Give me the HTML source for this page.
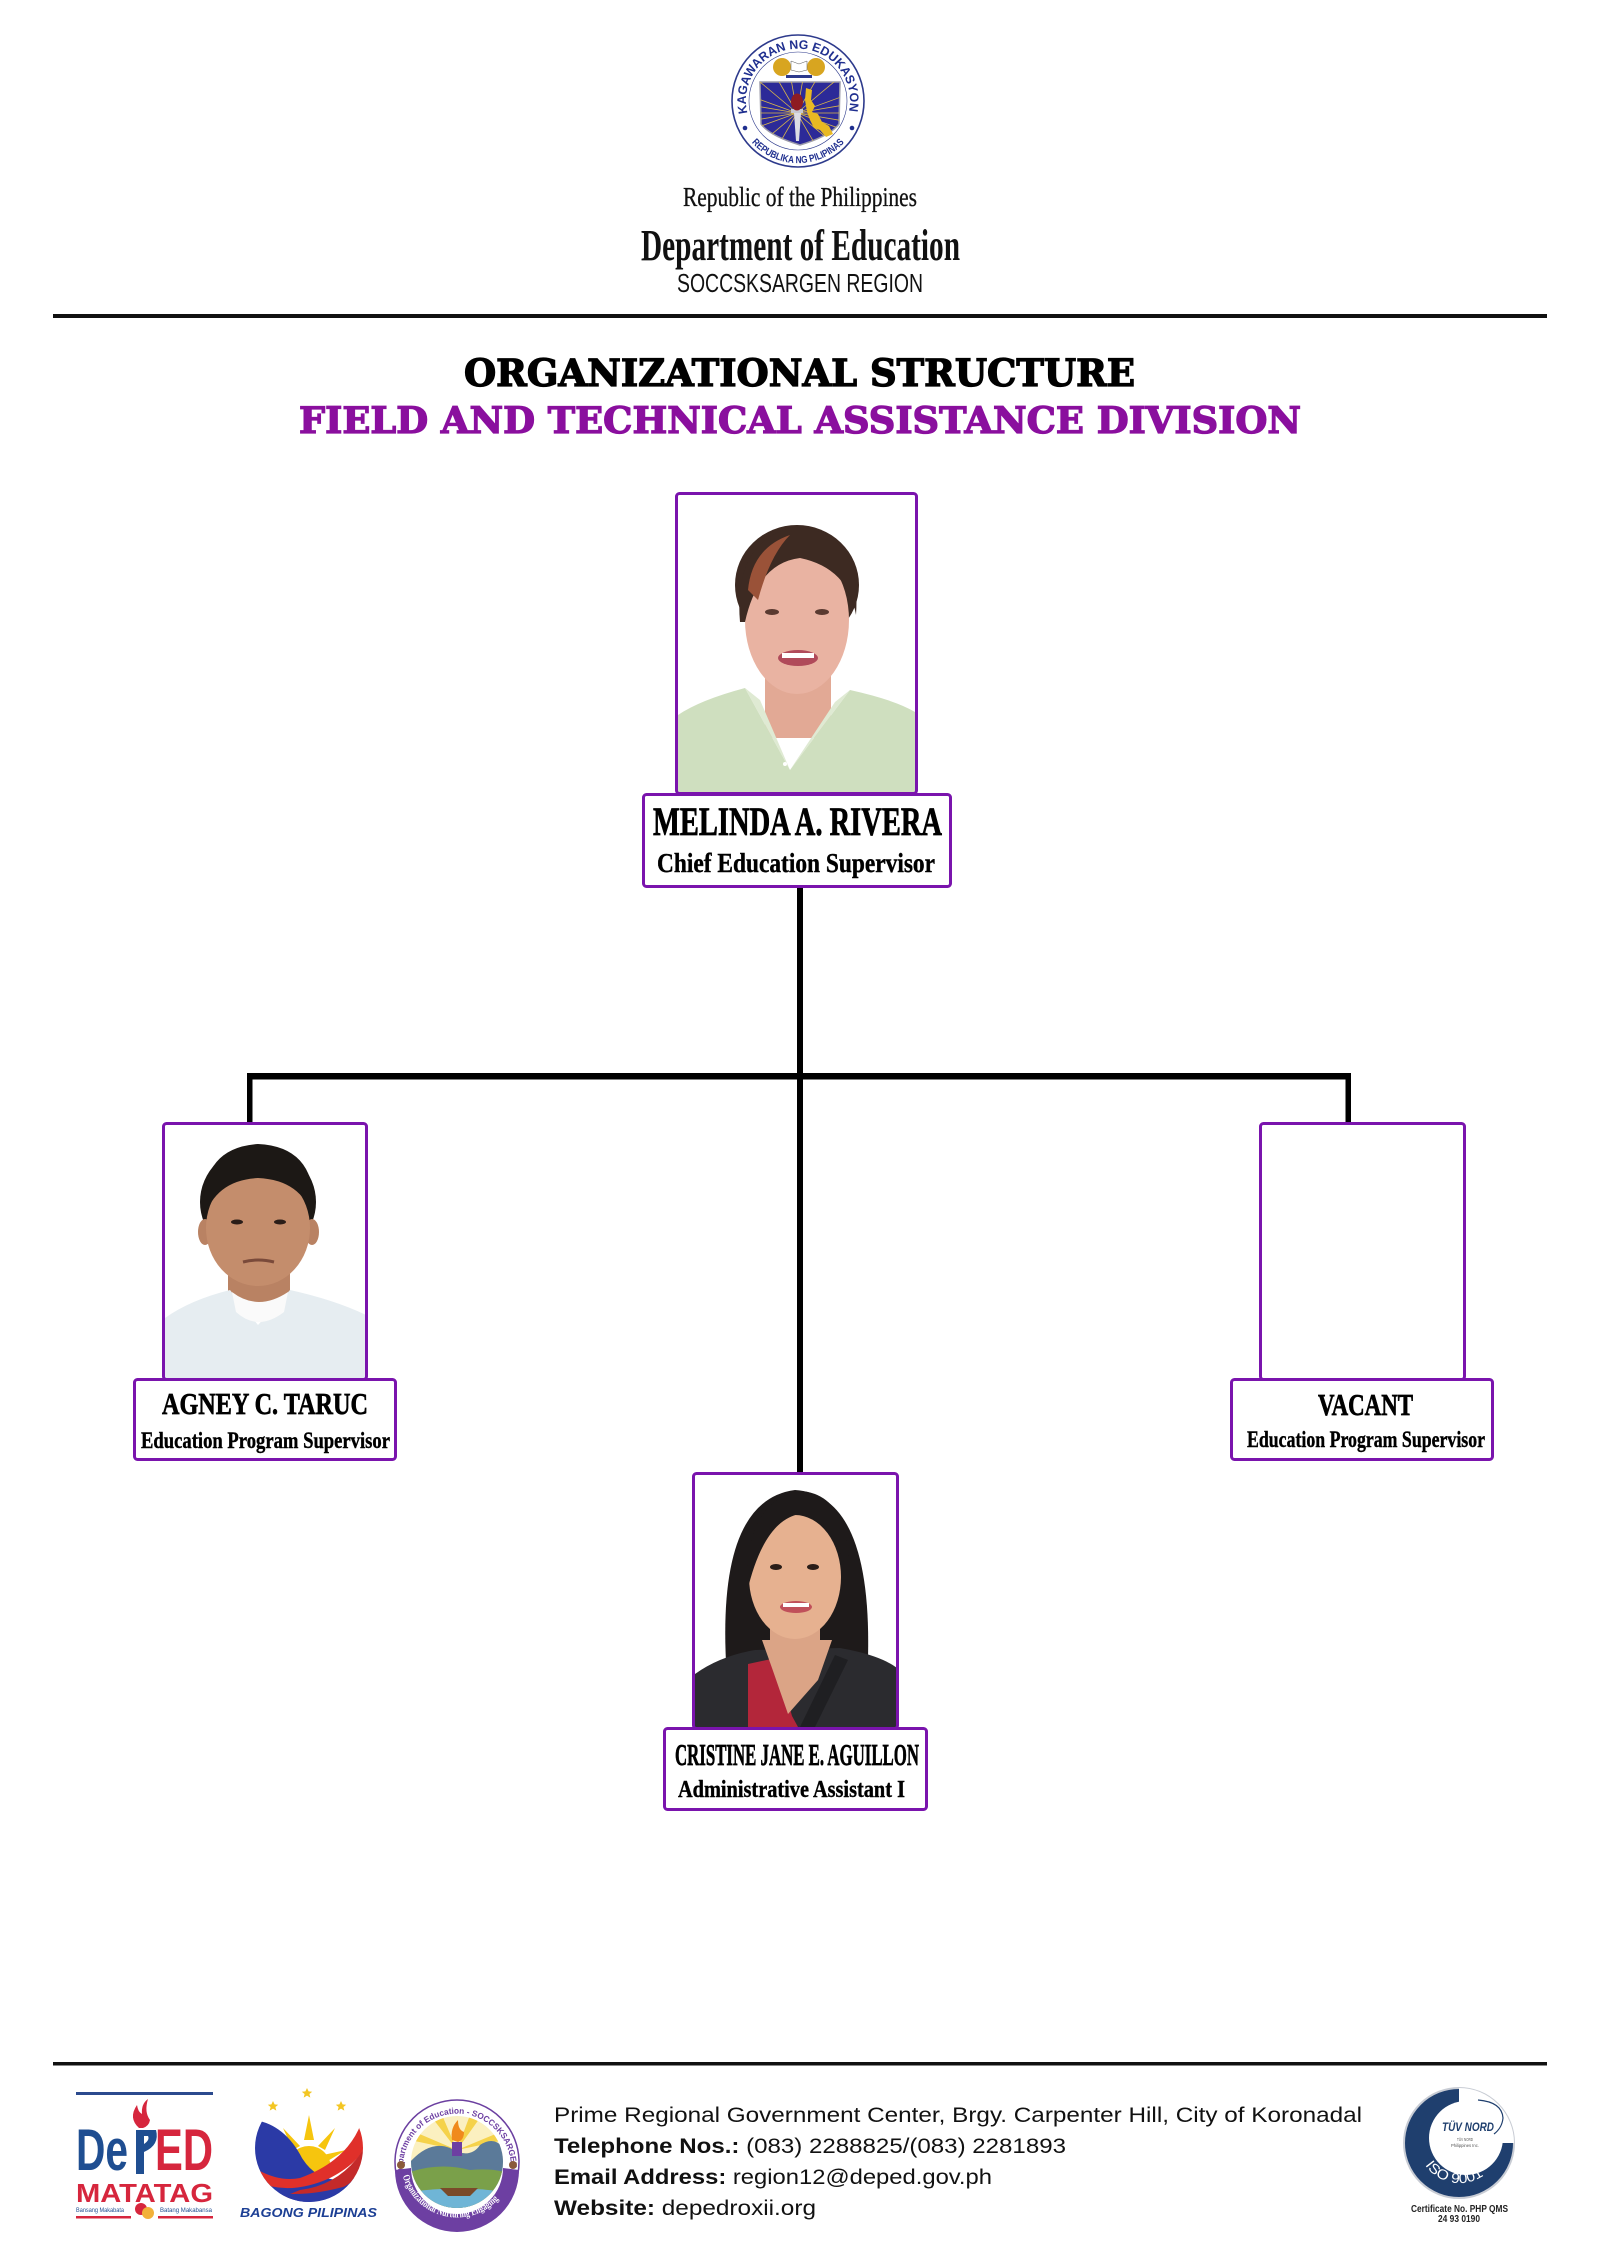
<!DOCTYPE html>
<html>
<head>
<meta charset="utf-8">
<style>
html,body{margin:0;padding:0;background:#fff;}
svg{display:block;}
</style>
</head>
<body>
<svg width="1600" height="2263" viewBox="0 0 1600 2263" xmlns="http://www.w3.org/2000/svg" xmlns:xlink="http://www.w3.org/1999/xlink">
<defs>
  <clipPath id="shieldClip"><path d="M760 82 L840 82 L839 124 Q830 136 800 145 Q770 136 761 124 Z"/></clipPath>
  <clipPath id="cTop"><rect x="678" y="495" width="237" height="298"/></clipPath>
  <clipPath id="cLeft"><rect x="165" y="1125" width="200" height="253"/></clipPath>
  <clipPath id="cBot"><rect x="695" y="1475" width="201" height="252"/></clipPath>
  <clipPath id="bagClip"><circle cx="309" cy="2148" r="54"/></clipPath>
  <clipPath id="sceneClip"><circle cx="457" cy="2162" r="46"/></clipPath>
  <path id="arcTop" d="M748 115 A52 52 0 1 1 848 115" fill="none"/>
  <path id="arcBot" d="M750.5 141 A62 62 0 0 0 845.5 141" fill="none"/>
  <path id="ringTop" d="M404 2178 A54 54 0 1 1 510 2178" fill="none"/>
  <path id="ringBot" d="M402 2172 A56 56 0 0 0 512 2172" fill="none"/>
  <path id="isoArc" d="M1422 2160 A42 42 0 0 0 1498 2158" fill="none"/>
</defs>
<rect width="1600" height="2263" fill="#fff"/>

<!-- ===== TOP SEAL ===== -->
<circle cx="798" cy="101" r="66" fill="#fff" stroke="#2d3a8c" stroke-width="1.6"/>
<circle cx="798" cy="101" r="49" fill="none" stroke="#2d3a8c" stroke-width="0.6"/>
<text font-family="'Liberation Sans', sans-serif" font-weight="bold" font-size="12.5" fill="#1f2f8f"><textPath xlink:href="#arcTop" href="#arcTop" startOffset="2" textLength="186" lengthAdjust="spacingAndGlyphs">KAGAWARAN NG EDUKASYON</textPath></text>
<text font-family="'Liberation Sans', sans-serif" font-weight="bold" font-size="10" fill="#1f2f8f"><textPath xlink:href="#arcBot" href="#arcBot" startOffset="2" textLength="104" lengthAdjust="spacingAndGlyphs">REPUBLIKA NG PILIPINAS</textPath></text>
<circle cx="745" cy="128" r="2.3" fill="#1f2f8f"/>
<circle cx="852" cy="128" r="2.3" fill="#1f2f8f"/>
<!-- shield -->
<path d="M760 82 L840 82 L839 124 Q830 136 800 145 Q770 136 761 124 Z" fill="#2c2a98" stroke="#9a9aa8" stroke-width="1.5"/>
<g clip-path="url(#shieldClip)" stroke="#d9b64a" stroke-width="0.8">
  <path d="M797 113 l60 0 M797 113 l56.4 20.5 M797 113 l46 38.6 M797 113 l30 52 M797 113 l-30 52 M797 113 l-46 38.6 M797 113 l-56.4 20.5 M797 113 l-60 0 M797 113 l-56.4 -20.5 M797 113 l-46 -38.6 M797 113 l-30 -52 M797 113 l-10.4 -59.1 M797 113 l10.4 -59.1 M797 113 l30 -52 M797 113 l46 -38.6 M797 113 l56.4 -20.5 M797 113 l59 10 M797 113 l-59 10 M797 113 l-59 -10 M797 113 l59 -10"/>
</g>
<path d="M806 88 L812 90 L811 100 L815 106 L812 112 L818 114 L822 122 L829 126 L833 134 L826 137 L820 130 L814 128 L810 120 L807 112 L805 100 Z" fill="#e9b923"/>
<path d="M794 113 L801 113 L799 141 L796 141 Z" fill="#dcdce4"/>
<rect x="791" y="109" width="12" height="4" fill="#c8c8d0"/>
<ellipse cx="797" cy="102" rx="6" ry="8.5" fill="#8e1c22"/>
<ellipse cx="782" cy="67" rx="9" ry="9" fill="#d8a520"/>
<ellipse cx="816" cy="67" rx="9" ry="9" fill="#d8a520"/>
<path d="M791 61 L799 64 L807 61 L807 70 L799 72 L791 70 Z" fill="#fff" stroke="#555" stroke-width="0.5"/>
<rect x="786" y="75" width="26" height="3" fill="#2d3a8c"/>

<!-- ===== HEADER TEXT ===== -->
<text x="683" y="206" font-family="'Liberation Serif', serif" font-size="27" fill="#111" stroke="#111" stroke-width="0.3" textLength="234" lengthAdjust="spacingAndGlyphs">Republic of the Philippines</text>
<text x="641" y="260" font-family="'Liberation Serif', serif" font-weight="bold" font-size="44" fill="#111" textLength="319" lengthAdjust="spacingAndGlyphs">Department of Education</text>
<text x="677" y="292" font-family="'Liberation Sans', sans-serif" font-size="26" fill="#111" textLength="246" lengthAdjust="spacingAndGlyphs">SOCCSKSARGEN REGION</text>
<rect x="53" y="314" width="1494" height="4" fill="#111"/>

<text x="464" y="386" font-family="'DejaVu Serif', serif" font-weight="bold" font-size="37" fill="#000" stroke="#000" stroke-width="1.3" textLength="671" lengthAdjust="spacingAndGlyphs">ORGANIZATIONAL STRUCTURE</text>
<text x="299" y="433" font-family="'DejaVu Serif', serif" font-weight="bold" font-size="36" fill="#8a0f9e" stroke="#8a0f9e" stroke-width="1.3" textLength="1002" lengthAdjust="spacingAndGlyphs">FIELD AND TECHNICAL ASSISTANCE DIVISION</text>

<!-- ===== CONNECTORS ===== -->
<rect x="797" y="886" width="6" height="588" fill="#000"/>
<rect x="247" y="1073" width="1104" height="6.5" fill="#000"/>
<rect x="247" y="1073" width="5.5" height="50" fill="#000"/>
<rect x="1345.5" y="1073" width="5.5" height="50" fill="#000"/>

<!-- ===== TOP NODE ===== -->
<g clip-path="url(#cTop)">
  <ellipse cx="797" cy="585" rx="62" ry="60" fill="#3d2a22"/>
  <rect x="765" y="668" width="66" height="70" fill="#e2a995"/>
  <path d="M678 715 Q700 700 745 688 L790 770 L850 690 Q895 700 915 712 L915 793 L678 793 Z" fill="#cfdfbf"/>
  <path d="M745 688 L760 700 L790 770 Z M850 690 L835 702 L790 770 Z" fill="#dfead3"/>
  <ellipse cx="797" cy="620" rx="52" ry="74" fill="#e9b3a2"/>
  <path d="M740 622 Q733 540 795 527 Q862 530 856 615 Q848 568 800 558 Q758 563 745 622 Z" fill="#3d2a22"/>
  <path d="M748 590 Q752 548 790 535 Q770 555 758 600 Z" fill="#9a5238"/>
  <ellipse cx="772" cy="612" rx="7" ry="3" fill="#5a3a30"/>
  <ellipse cx="822" cy="612" rx="7" ry="3" fill="#5a3a30"/>
  <ellipse cx="798" cy="658" rx="20" ry="8" fill="#b04a5a"/>
  <rect x="782" y="653" width="32" height="5" fill="#fff"/>
  <circle cx="785" cy="764" r="2" fill="#fff"/>
</g>
<rect x="676.5" y="493.5" width="240" height="300" rx="3" fill="none" stroke="#7a14ad" stroke-width="3"/>
<rect x="643.5" y="794.5" width="307" height="92" rx="3" fill="#fff" stroke="#7a14ad" stroke-width="3"/>
<text x="653" y="835" font-family="'Liberation Serif', serif" font-weight="bold" font-size="40" fill="#000" stroke="#000" stroke-width="0.8" textLength="289" lengthAdjust="spacingAndGlyphs">MELINDA A. RIVERA</text>
<text x="657" y="872" font-family="'Liberation Serif', serif" font-weight="bold" font-size="27" fill="#000" stroke="#000" stroke-width="0.4" textLength="278" lengthAdjust="spacingAndGlyphs">Chief Education Supervisor</text>

<!-- ===== LEFT NODE ===== -->
<g clip-path="url(#cLeft)">
  <ellipse cx="258" cy="1202" rx="58" ry="56" fill="#1c1815"/>
  <rect x="228" y="1258" width="62" height="52" fill="#b98263"/>
  <path d="M165 1318 Q190 1300 230 1290 L258 1325 L290 1290 Q335 1300 366 1315 L366 1378 L165 1378 Z" fill="#e6edf1"/>
  <path d="M232 1292 Q258 1312 288 1292 L284 1312 Q258 1332 236 1312 Z" fill="#fafafa"/>
  <ellipse cx="205" cy="1232" rx="7" ry="13" fill="#b98263"/>
  <ellipse cx="312" cy="1232" rx="7" ry="13" fill="#b98263"/>
  <ellipse cx="258" cy="1228" rx="52" ry="58" fill="#c48d6c"/>
  <path d="M204 1218 Q198 1148 258 1144 Q320 1147 313 1218 Q302 1180 258 1178 Q216 1180 204 1218 Z" fill="#1c1815"/>
  <ellipse cx="237" cy="1222" rx="6" ry="2.5" fill="#2a1d18"/>
  <ellipse cx="280" cy="1222" rx="6" ry="2.5" fill="#2a1d18"/>
  <path d="M243 1262 Q258 1258 274 1262" stroke="#7a4a3a" stroke-width="3" fill="none"/>
</g>
<rect x="163.5" y="1123.5" width="203" height="256" rx="3" fill="none" stroke="#7a14ad" stroke-width="3"/>
<rect x="134.5" y="1379.5" width="261" height="80" rx="3" fill="#fff" stroke="#7a14ad" stroke-width="3"/>
<text x="162" y="1414" font-family="'Liberation Serif', serif" font-weight="bold" font-size="31" fill="#000" stroke="#000" stroke-width="0.7" textLength="206" lengthAdjust="spacingAndGlyphs">AGNEY C. TARUC</text>
<text x="141" y="1448" font-family="'Liberation Serif', serif" font-weight="bold" font-size="23" fill="#000" stroke="#000" stroke-width="0.4" textLength="249" lengthAdjust="spacingAndGlyphs">Education Program Supervisor</text>

<!-- ===== RIGHT NODE (VACANT) ===== -->
<rect x="1260.5" y="1123.5" width="204" height="256" rx="3" fill="#fff" stroke="#7a14ad" stroke-width="3"/>
<rect x="1231.5" y="1379.5" width="261" height="80" rx="3" fill="#fff" stroke="#7a14ad" stroke-width="3"/>
<text x="1318" y="1415" font-family="'Liberation Serif', serif" font-weight="bold" font-size="31" fill="#000" stroke="#000" stroke-width="0.7" textLength="95" lengthAdjust="spacingAndGlyphs">VACANT</text>
<text x="1247" y="1447" font-family="'Liberation Serif', serif" font-weight="bold" font-size="23" fill="#000" stroke="#000" stroke-width="0.4" textLength="238" lengthAdjust="spacingAndGlyphs">Education Program Supervisor</text>

<!-- ===== BOTTOM NODE ===== -->
<g clip-path="url(#cBot)">
  <path d="M726 1662 Q718 1500 795 1490 Q872 1495 868 1658 Z" fill="#1e1a1a"/>
  <rect x="770" y="1620" width="50" height="60" fill="#dba486"/>
  <path d="M695 1674 Q720 1656 755 1650 L840 1648 Q880 1655 897 1668 L897 1727 L695 1727 Z" fill="#2b2b2f"/>
  <path d="M748 1664 L776 1658 L792 1716 L798 1727 L748 1727 Z" fill="#b3263a"/>
  <path d="M762 1640 L832 1640 L818 1680 L788 1714 L772 1668 Z" fill="#dba486"/>
  <path d="M800 1727 L835 1655 L848 1660 L815 1727 Z" fill="#1f1f22"/>
  <ellipse cx="795" cy="1577" rx="46" ry="62" fill="#e6b190"/>
  <path d="M747 1592 Q744 1500 800 1491 Q852 1494 849 1582 Q836 1520 800 1514 Q764 1520 747 1592 Z" fill="#1e1a1a"/>
  <ellipse cx="776" cy="1567" rx="6" ry="3" fill="#2a1d18"/>
  <ellipse cx="813" cy="1567" rx="6" ry="3" fill="#2a1d18"/>
  <ellipse cx="796" cy="1607" rx="16" ry="6" fill="#c0505a"/>
  <rect x="783" y="1603" width="26" height="4" fill="#fff"/>
</g>
<rect x="693.5" y="1473.5" width="204" height="255" rx="3" fill="none" stroke="#7a14ad" stroke-width="3"/>
<rect x="664.5" y="1728.5" width="262" height="81" rx="3" fill="#fff" stroke="#7a14ad" stroke-width="3"/>
<text x="675" y="1765" font-family="'Liberation Serif', serif" font-weight="bold" font-size="31" fill="#000" stroke="#000" stroke-width="0.7" textLength="244" lengthAdjust="spacingAndGlyphs">CRISTINE JANE E. AGUILLON</text>
<text x="678" y="1797" font-family="'Liberation Serif', serif" font-weight="bold" font-size="24" fill="#000" stroke="#000" stroke-width="0.4" textLength="227" lengthAdjust="spacingAndGlyphs">Administrative Assistant I</text>

<!-- ===== FOOTER ===== -->
<rect x="53" y="2062" width="1494" height="3.5" fill="#111"/>

<!-- DepED MATATAG -->
<rect x="76" y="2092" width="137" height="3" fill="#2b4a8e"/>
<text x="76" y="2170" font-family="'Liberation Sans', sans-serif" font-weight="bold" font-size="58" fill="#1f4e91" textLength="52" lengthAdjust="spacingAndGlyphs">De</text>
<rect x="136" y="2130" width="8" height="44" fill="#1f4e91"/>
<path d="M136 2130 L156 2130 Q160 2145 144 2152 L144 2144 Q150 2140 148 2136 L136 2136 Z" fill="#1f4e91"/>
<path d="M139 2128 Q128 2118 137 2105 Q138 2112 142 2114 Q141 2104 148 2099 Q144 2112 150 2120 Q149 2126 143 2128 Z" fill="#d6263d"/>
<text x="155" y="2170" font-family="'Liberation Sans', sans-serif" font-weight="bold" font-size="58" fill="#d6263d" textLength="58" lengthAdjust="spacingAndGlyphs">ED</text>
<text x="76" y="2202" font-family="'Liberation Sans', sans-serif" font-weight="bold" font-size="26" fill="#d6263d" textLength="137" lengthAdjust="spacingAndGlyphs">MATATAG</text>
<text x="76" y="2212" font-family="'Liberation Sans', sans-serif" font-size="6.5" fill="#1f4e91" textLength="48" lengthAdjust="spacingAndGlyphs">Bansang Makabata</text>
<text x="160" y="2212" font-family="'Liberation Sans', sans-serif" font-size="6.5" fill="#1f4e91" textLength="52" lengthAdjust="spacingAndGlyphs">Batang Makabansa</text>
<circle cx="141" cy="2209" r="6" fill="#d6263d"/>
<circle cx="148" cy="2213" r="6" fill="#f2b13a"/>
<rect x="76" y="2216" width="55" height="2.5" fill="#d6263d"/>
<rect x="158" y="2216" width="55" height="2.5" fill="#d6263d"/>

<!-- Bagong Pilipinas -->
<path d="M273 2101 l1.6 3.4 3.6 0.3 -2.8 2.3 0.9 3.6 -3.3 -2 -3.3 2 0.9 -3.6 -2.8 -2.3 3.6 -0.3 Z" fill="#f3c623"/>
<path d="M307 2088 l1.6 3.4 3.6 0.3 -2.8 2.3 0.9 3.6 -3.3 -2 -3.3 2 0.9 -3.6 -2.8 -2.3 3.6 -0.3 Z" fill="#f3c623"/>
<path d="M341 2101 l1.6 3.4 3.6 0.3 -2.8 2.3 0.9 3.6 -3.3 -2 -3.3 2 0.9 -3.6 -2.8 -2.3 3.6 -0.3 Z" fill="#f3c623"/>
<g clip-path="url(#bagClip)">
  <rect x="255" y="2118" width="108" height="90" fill="#fff"/>
  <path d="M309 2115 L314 2140 L304 2140 Z M283 2128 L300 2146 L293 2150 Z M335 2128 L318 2146 L325 2150 Z M272 2150 L295 2155 L292 2162 Z M346 2150 L323 2155 L326 2162 Z" fill="#f6c50e"/>
  <circle cx="309" cy="2168" r="22" fill="#f6c50e"/>
  <path d="M255 2120 Q285 2125 302 2158 Q322 2190 363 2175 L363 2210 L255 2210 Z" fill="#2b3aa6"/>
  <path d="M363 2118 Q350 2160 300 2178 Q280 2182 258 2170 L258 2182 Q290 2196 330 2178 Q355 2165 363 2150 Z" fill="#e0302a"/>
  <path d="M363 2150 Q340 2185 300 2190 L280 2198 Q330 2205 363 2172 Z" fill="#c42a2a"/>
  <path d="M260 2190 Q300 2200 350 2185 L340 2196 Q300 2208 268 2198 Z" fill="#2b3aa6"/>
</g>
<text x="240" y="2217" font-family="'Liberation Sans', sans-serif" font-weight="bold" font-style="italic" font-size="13" fill="#1c3f94" textLength="137" lengthAdjust="spacingAndGlyphs">BAGONG PILIPINAS</text>

<!-- SOCCSKSARGEN logo -->
<circle cx="457" cy="2162" r="62" fill="#fff" stroke="#6b3fa0" stroke-width="1.5"/>
<path d="M395 2170 A62 62 0 0 0 519 2170 L503 2168 A46 46 0 0 1 411 2168 Z" fill="#6d3fa2"/>
<g clip-path="url(#sceneClip)">
  <rect x="410" y="2115" width="95" height="95" fill="#fbf0c0"/>
  <path d="M457 2150 L430 2115 L442 2115 Z M457 2150 L470 2115 L482 2115 Z M457 2150 L410 2130 L410 2140 Z M457 2150 L505 2130 L505 2140 Z" fill="#f5d24a"/>
  <path d="M410 2162 Q430 2140 450 2148 Q470 2160 480 2145 Q495 2135 505 2150 L505 2210 L410 2210 Z" fill="#5b7a99"/>
  <path d="M410 2172 Q440 2162 470 2170 Q490 2168 505 2172 L505 2210 L410 2210 Z" fill="#7aa04a"/>
  <path d="M410 2192 Q457 2185 505 2192 L505 2210 L410 2210 Z" fill="#6fb5d6"/>
  <path d="M440 2188 L478 2188 L470 2196 L448 2196 Z" fill="#7a4a2a"/>
  <path d="M452 2140 Q450 2128 458 2120 Q458 2130 464 2132 Q464 2140 458 2142 Z" fill="#f08a1c"/>
  <rect x="452" y="2142" width="10" height="14" fill="#6d3fa2"/>
</g>
<text font-family="'Liberation Sans', sans-serif" font-weight="bold" font-size="8.5" fill="#6d3fa2"><textPath xlink:href="#ringTop" href="#ringTop" startOffset="4" textLength="176" lengthAdjust="spacingAndGlyphs">Department of Education - SOCCSKSARGEN</textPath></text>
<text font-family="'Liberation Serif', serif" font-weight="bold" font-size="10" fill="#fff"><textPath xlink:href="#ringBot" href="#ringBot" startOffset="4" textLength="120" lengthAdjust="spacingAndGlyphs">Organizational  Nurturing  Engaging</textPath></text>
<circle cx="401" cy="2165" r="4" fill="#8a5a3a"/>
<circle cx="513" cy="2165" r="4" fill="#8a5a3a"/>

<!-- Address text -->
<text x="554" y="2122" font-family="'Liberation Sans', sans-serif" font-size="21" fill="#111" textLength="808" lengthAdjust="spacingAndGlyphs">Prime Regional Government Center, Brgy. Carpenter Hill, City of Koronadal</text>
<text x="554" y="2153" font-family="'Liberation Sans', sans-serif" font-size="21" fill="#111" textLength="512" lengthAdjust="spacingAndGlyphs"><tspan font-weight="bold">Telephone Nos.:</tspan> (083) 2288825/(083) 2281893</text>
<text x="554" y="2184" font-family="'Liberation Sans', sans-serif" font-size="21" fill="#111" textLength="438" lengthAdjust="spacingAndGlyphs"><tspan font-weight="bold">Email Address:</tspan> region12@deped.gov.ph</text>
<text x="554" y="2215" font-family="'Liberation Sans', sans-serif" font-size="21" fill="#111" textLength="262" lengthAdjust="spacingAndGlyphs"><tspan font-weight="bold">Website:</tspan> depedroxii.org</text>

<!-- TUV NORD -->
<circle cx="1459" cy="2143" r="55" fill="#1f3f6e" stroke="#c8ccd4" stroke-width="2"/>
<path d="M1459 2143 L1459 2088 A55 55 0 0 1 1514 2143 Z" fill="#fff"/>
<circle cx="1466" cy="2138" r="37" fill="#fff"/>
<path d="M1478 2100 Q1502 2102 1503 2118 Q1502 2128 1494 2134" stroke="#1f3f6e" stroke-width="1.2" fill="none"/>
<text x="1442" y="2131" font-family="'Liberation Sans', sans-serif" font-weight="bold" font-style="italic" font-size="12" fill="#1f3f6e" textLength="52" lengthAdjust="spacingAndGlyphs">TÜV NORD</text>
<text x="1457" y="2141" font-family="'Liberation Sans', sans-serif" font-size="4.5" fill="#555" textLength="16" lengthAdjust="spacingAndGlyphs">TÜV NORD</text>
<text x="1451" y="2147" font-family="'Liberation Sans', sans-serif" font-size="4.5" fill="#555" textLength="28" lengthAdjust="spacingAndGlyphs">Philippines Inc.</text>
<text font-family="'Liberation Sans', sans-serif" font-size="14" fill="#fff"><textPath xlink:href="#isoArc" href="#isoArc" startOffset="6" textLength="66" lengthAdjust="spacingAndGlyphs">ISO 9001</textPath></text>
<text x="1411" y="2212" font-family="'Liberation Sans', sans-serif" font-weight="bold" font-size="10" fill="#222" textLength="97" lengthAdjust="spacingAndGlyphs">Certificate No. PHP QMS</text>
<text x="1438" y="2222" font-family="'Liberation Sans', sans-serif" font-weight="bold" font-size="10" fill="#222" textLength="42" lengthAdjust="spacingAndGlyphs">24 93 0190</text>
</svg>
</body>
</html>
